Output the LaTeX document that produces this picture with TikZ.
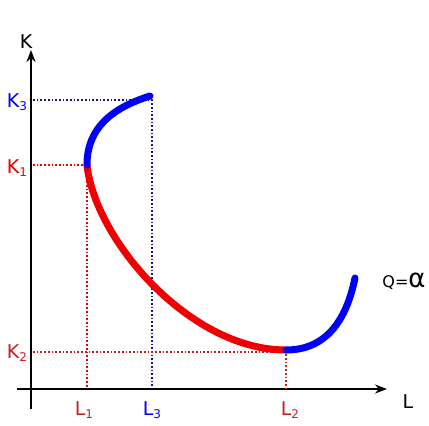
\documentclass[tikz,border=0pt]{standalone}
\usepackage{fontspec}
\setmainfont{DejaVu Sans}
\usetikzlibrary{arrows.meta}
\definecolor{cred}{RGB}{240,0,0}
\definecolor{cblue}{RGB}{0,0,250}
\definecolor{dred}{RGB}{200,30,30}
\definecolor{navy}{RGB}{20,20,150}
\newcommand{\sbx}[1]{\raisebox{-0.35ex}{\fontsize{12}{12}\selectfont #1}}
\begin{document}
\begin{tikzpicture}[x=1pt,y=-1pt,
  axis/.style={line width=2.6pt,-{Stealth[length=12pt,width=9pt]}},
  curve/.style={line width=7pt,line cap=round},
  guide/.style={line width=1.7pt,dotted},
  lbl/.style={font=\fontsize{19}{19}\selectfont,inner sep=0pt}]
\useasboundingbox (0,0) rectangle (429,426);
% axes
\coordinate (o1) at (31,409);
\coordinate (ytop) at (31,50);
\coordinate (o2) at (17,389);
\coordinate (xend) at (387,389);
\draw[axis] (o1) -- (ytop);
\draw[axis] (o2) -- (xend);
\node[lbl] (K) at (26,42) {K};
\node[lbl] (L) at (408,402) {L};
% key points
\coordinate (P3) at (150,96);
\coordinate (P1) at (87,165);
\coordinate (P2) at (286,350);
\coordinate (PE) at (355,278);
\coordinate (ak3) at (33,100);
\coordinate (ak1) at (33,165);
\coordinate (ak2) at (33,352);
\coordinate (ax1) at (87,388);
\coordinate (ax3) at (152,388);
\coordinate (ax2) at (286,388);
\coordinate (p3c) at (152,100);
\coordinate (p2c) at (286,352);
% guides
\draw[guide,navy] (ak3) -- (p3c) -- (ax3);
\draw[guide,cred] (ak1) -- (P1) -- (ax1);
\draw[guide,dred] (ak2) -- (p2c) -- (ax2);
% curves
\draw[curve,cred] (P1) .. controls (95,240) and (190,350) .. (P2);
\draw[curve,cblue] (P3) .. controls (112,108) and (87,128) .. (P1);
\draw[curve,cblue] (P2) .. controls (325,350) and (346,322) .. (PE);
% labels
\node[lbl,text=cblue] (k3) at (17,102) {K\sbx{3}};
\node[lbl,text=cred] (k1) at (17,168) {K\sbx{1}};
\node[lbl,text=dred] (k2) at (17,353) {K\sbx{2}};
\node[lbl,text=dred] (l1) at (84,410) {L\sbx{1}};
\node[lbl,text=cblue] (l3) at (152,410) {L\sbx{3}};
\node[lbl,text=dred] (l2) at (290,410) {L\sbx{2}};
\node[lbl] (q) at (404,281) {\fontsize{16}{16}\selectfont Q=\fontsize{26}{26}\selectfont α};
\end{tikzpicture}
\end{document}
